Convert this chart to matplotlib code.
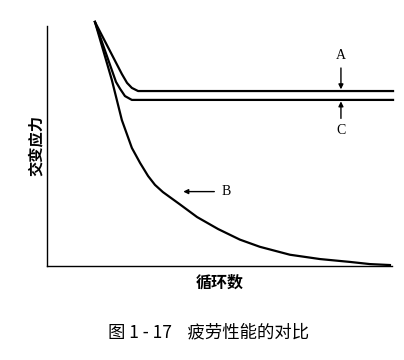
import matplotlib
matplotlib.use("Agg")
import matplotlib.pyplot as plt

plt.rcParams['font.family'] = ['Noto Sans CJK SC', 'DejaVu Sans']

# curve A (upper, with fatigue limit)
a_x = [13.9, 21.7, 23.2, 24.6, 26.4, 100.3]
a_y = [101.7, 80.0, 76.3, 74.2, 72.9, 72.9]
# curve C (lower, with fatigue limit)
c_x = [13.9, 20.0, 21.2, 22.6, 24.6, 100.3]
c_y = [101.7, 76.7, 73.8, 70.8, 69.2, 69.2]
# curve B (no fatigue limit)
b_x = [13.9, 18.8, 21.7, 24.6, 27.0, 29.3, 31.3, 33.6, 38.6, 43.5, 49.6,
       55.9, 61.7, 70.4, 79.1, 87.8, 93.6, 99.4]
b_y = [101.7, 77.5, 60.8, 49.2, 42.9, 37.5, 33.8, 30.8, 25.6, 20.4, 15.4,
       11.0, 8.0, 4.7, 2.9, 1.7, 0.8, 0.4]

fig = plt.figure(figsize=(4.04, 3.60), dpi=100)
ax = fig.add_axes([0.1163, 0.2611, 0.854, 0.6667])

for xs, ys in [(a_x, a_y), (c_x, c_y), (b_x, b_y)]:
    ax.plot(xs, ys, color='black', lw=1.6, clip_on=False, solid_joinstyle='round')

ax.set_xlim(0, 100)
ax.set_ylim(0, 100)
for s in ['top', 'right']:
    ax.spines[s].set_visible(False)
ax.spines['left'].set_linewidth(1.0)
ax.spines['bottom'].set_linewidth(1.0)
ax.set_xticks([])
ax.set_yticks([])

arrow = dict(arrowstyle='-|>', color='black', lw=1.0, mutation_scale=7,
             shrinkA=0, shrinkB=0)
ax.annotate('', xy=(85.2, 73.6), xytext=(85.2, 82.5), arrowprops=arrow)
ax.annotate('', xy=(85.2, 68.6), xytext=(85.2, 61.5), arrowprops=arrow)
ax.annotate('', xy=(39.5, 31.0), xytext=(48.5, 31.0), arrowprops=arrow)
ax.text(85.2, 85.0, 'A', ha='center', va='bottom', fontsize=10,
        family='Liberation Serif')
ax.text(85.2, 59.0, 'C', ha='center', va='top', fontsize=10,
        family='Liberation Serif')
ax.text(50.5, 31.0, 'B', ha='left', va='center', fontsize=10,
        family='Liberation Serif')

ax.set_ylabel('交变应力', fontsize=11, fontweight='bold', labelpad=2)
ax.set_xlabel('循环数', fontsize=11.5, fontweight='bold', labelpad=6)

fig.text(0.516, 0.077, '图 1 - 17    疲劳性能的对比', ha='center', va='center',
         fontsize=12.5)

fig.savefig('out.png', dpi=100)
